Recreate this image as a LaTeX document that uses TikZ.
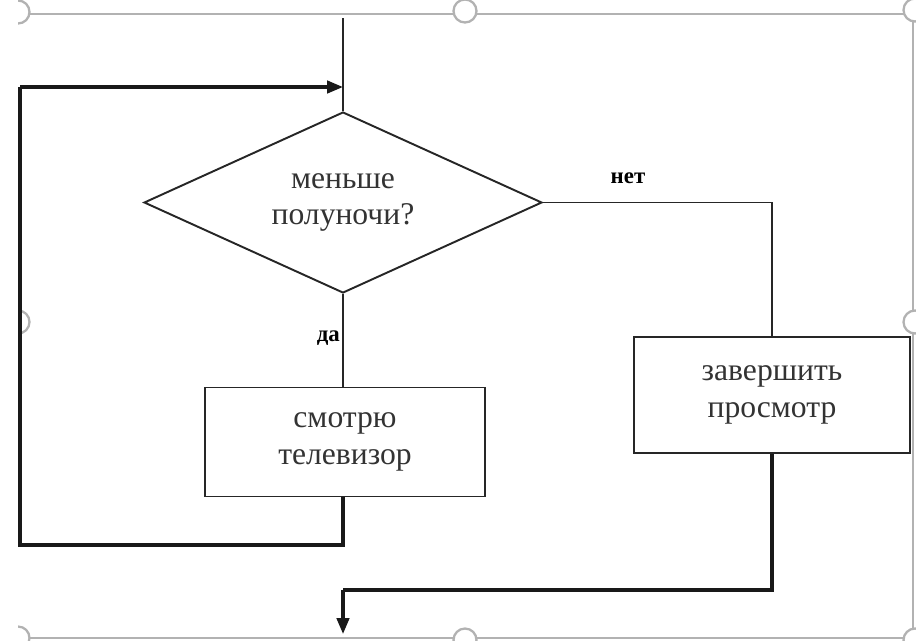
\documentclass[tikz,border=0pt]{standalone}
\usepackage{fontspec}
\setmainfont{Liberation Serif}
\usetikzlibrary{shapes.geometric, arrows.meta, positioning}

\begin{document}
\begin{tikzpicture}[x=0.02cm, y=-0.02cm,
    flow/.style={draw=black!85, line width=1.1pt},
    loopline/.style={draw=black!90, line width=1.8pt},
    block/.style={draw=black!85, line width=1.1pt, rectangle, align=center,
        font=\fontsize{18}{21}\selectfont, text=black!80},
    answer/.style={font=\bfseries\fontsize{13}{14}\selectfont},
    handle/.style={draw=gray!60, line width=1.3pt, fill=white, circle, minimum size=0.46cm, inner sep=0pt}]
    \useasboundingbox (0,0) rectangle (916,640);

    % Selection frame
    \draw[gray!60, line width=1.5pt] (18,14) -- (913,14) -- (913,638) -- (18,638);
    \begin{scope}
        \clip (18,0) rectangle (916,640);
        \foreach \py in {12,322,638} {
            \node[handle] (hl\py) at (18,\py) {};
        }
    \end{scope}
    \node[handle] (htop) at (465,11) {};
    \node[handle] (hbot) at (465,640) {};
    \foreach \py in {10,322,640} {
        \node[handle] (hr\py) at (915,\py) {};
    }

    % Decision
    \node[draw=black!85, line width=1.1pt, diamond, inner sep=0pt, shape aspect=2.2,
        minimum width=7.96cm, minimum height=3.62cm, align=center,
        font=\fontsize{18}{21}\selectfont, text=black!80]
        (decision) at (343,202.5) {меньше\\полуночи?};

    % Blocks
    \node[block, minimum width=5.6cm, minimum height=2.18cm] (watch) at (345,442) {смотрю\\телевизор};
    \node[block, minimum width=5.52cm, minimum height=2.32cm] (finish) at (772,395) {завершить\\просмотр};

    % Connections
    \coordinate (start) at (343,18);
    \coordinate (merge) at (343,87);
    \coordinate (loopin) at (20,87);
    \coordinate (turn) at (20,545);
    \coordinate (join) at (343,590);
    \coordinate (exit) at (343,634);

    \draw[flow] (start) -- (decision.north);
    \draw[flow] (decision.south) -- (watch.north -| decision.south);
    \draw[flow] (decision.east) -| (finish.north);
    \draw[loopline] (watch.south -| decision.south) |- (turn) -- (loopin);
    \draw[loopline, -{Triangle[length=9pt, width=7pt]}] (loopin) -- (merge);
    \draw[loopline] (finish.south) |- (join);
    \draw[loopline, -{Triangle[length=9pt, width=7pt]}] (join) -- (exit);

    \node[answer] (no) at (628,178) {нет};
    \node[answer, anchor=east] (yes) at (346,338) {да};
\end{tikzpicture}
\end{document}
